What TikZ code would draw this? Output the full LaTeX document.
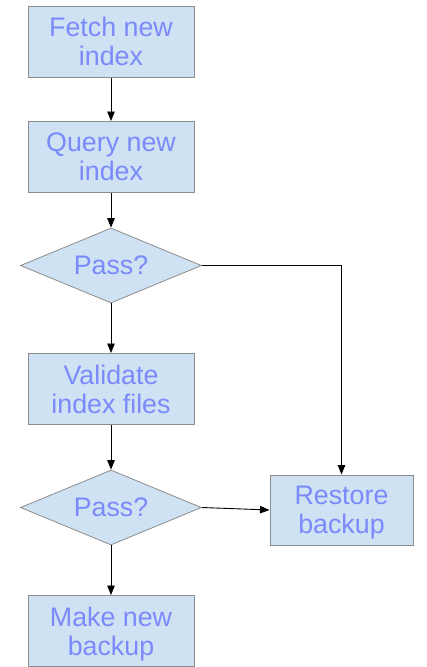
\documentclass[tikz,border=0pt]{standalone}
\usepackage{fontspec}
\setmainfont{Liberation Sans}
\usetikzlibrary{shapes.geometric,arrows.meta}
\definecolor{boxfill}{HTML}{CFE2F3}
\definecolor{boxline}{HTML}{8C8C8C}
\definecolor{boxtext}{RGB}{122,138,250}
\begin{document}
\begin{tikzpicture}[x=1pt,y=-1pt,
  every node/.style={font=\fontsize{26.8}{28.8}\selectfont, text=boxtext, align=center, text depth=0pt},
  stepbox/.style={draw=boxline, fill=boxfill, line width=1pt, minimum width=166pt, minimum height=71pt, inner sep=0pt},
  decide/.style={diamond, draw=boxline, fill=boxfill, line width=0.8pt, minimum width=181pt, minimum height=75pt, inner sep=0pt, aspect=2.4},
  flow/.style={draw=black, line width=0.9pt, -{Triangle[length=9.5pt,width=7.5pt]}}]
\useasboundingbox (0,0) rectangle (426,667);
\node[stepbox] (fetch) at (111,41.5) {Fetch new\\index};
\node[stepbox] (query) at (111,157) {Query new\\index};
\node[decide] (pass1) at (111,265.5) {Pass?};
\node[stepbox] (valid) at (111,389) {Validate\\index files};
\node[decide] (pass2) at (111,507.5) {Pass?};
\node[stepbox] (backup) at (111,631) {Make new\\backup};
\node[stepbox, minimum width=143pt, minimum height=70pt] (restore) at (341.5,510) {Restore\\backup};
\draw[flow] (fetch) -- (query);
\draw[flow] (query) -- (pass1);
\draw[flow] (pass1) -- (valid);
\draw[flow] (valid) -- (pass2);
\draw[flow] (pass2) -- (backup);
\draw[flow] (pass1.east) -| (restore.north);
\draw[flow] (pass2.east) -- (restore.west);
\end{tikzpicture}
\end{document}
